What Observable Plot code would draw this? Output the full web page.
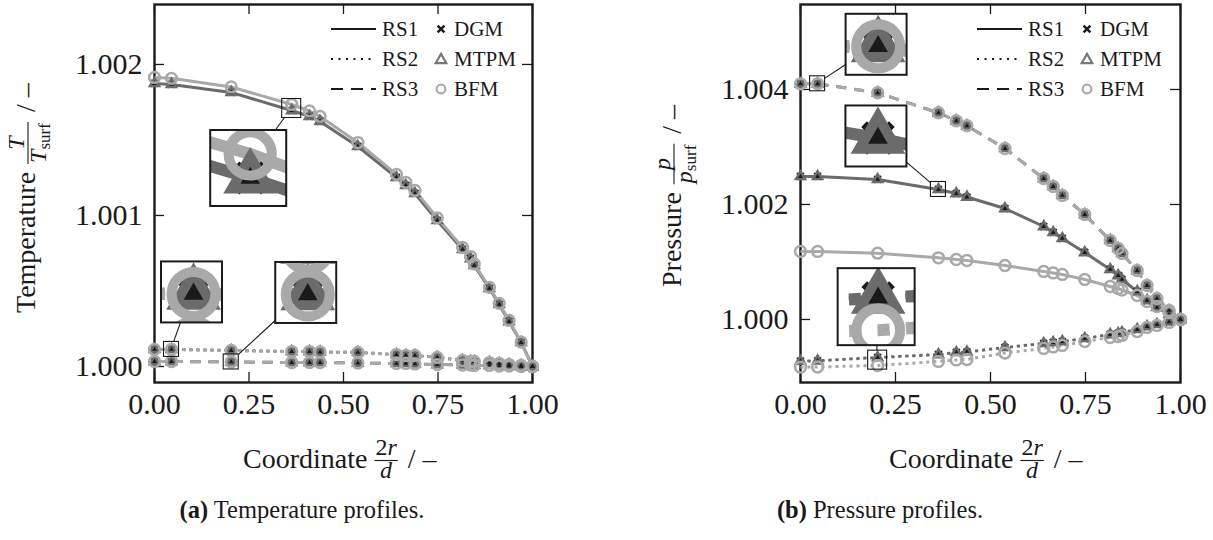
<!DOCTYPE html>
<html><head><meta charset="utf-8">
<script src="https://cdn.jsdelivr.net/npm/d3@7"></script>
<script src="https://cdn.jsdelivr.net/npm/@observablehq/plot@0.6"></script>
<style>
body{margin:0;background:#fff;}
#wrap{position:relative;width:1213px;height:540px;overflow:hidden;font-family:"Liberation Serif","Times New Roman",serif;background:#fff;}
#wrap svg, #wrap svg text{font-family:"Liberation Serif","Times New Roman",serif;}
#pa{position:absolute;left:0;top:0;}
#pb{position:absolute;left:600px;top:0;}
.cap{position:absolute;top:496px;font-size:24.5px;text-align:center;color:#1a1a1a;line-height:28px;}
</style></head><body>
<div id="wrap"><div id="pa"></div><div id="pb"></div>
<div class="cap" style="left:0;width:604px"><b>(a)</b> Temperature profiles.</div>
<div class="cap" style="left:600px;width:560px"><b>(b)</b> Pressure profiles.</div>
</div>
<script>
// ---------- data ----------
const coordinate = [0, 0.045, 0.203, 0.363, 0.41, 0.438, 0.538, 0.64, 0.665, 0.689, 0.748, 0.815, 0.836, 0.846, 0.886, 0.912, 0.938, 0.97, 1.0];

// Temperature T/T_surf
const tempRS1_DGM  = [1.001874, 1.001868, 1.001815, 1.001695, 1.001656, 1.001623, 1.001457, 1.001252, 1.001199, 1.001146, 1.000967, 1.000775, 1.000715, 1.000669, 1.000517, 1.000411, 1.000298, 1.000159, 1.000000];
const tempRS1_MTPM = [1.001874, 1.001868, 1.001815, 1.001695, 1.001656, 1.001623, 1.001457, 1.001252, 1.001199, 1.001146, 1.000967, 1.000775, 1.000715, 1.000669, 1.000517, 1.000411, 1.000298, 1.000159, 1.000000];
const tempRS1_BFM  = [1.001914, 1.001908, 1.001851, 1.001735, 1.001692, 1.001656, 1.001483, 1.001272, 1.001219, 1.001166, 1.000984, 1.000788, 1.000728, 1.000679, 1.000524, 1.000418, 1.000305, 1.000162, 1.000000];
const tempRS2_DGM  = [1.000113, 1.000113, 1.000106, 1.000099, 1.000099, 1.000096, 1.000093, 1.000079, 1.000073, 1.000073, 1.000060, 1.000040, 1.000033, 1.000033, 1.000026, 1.000020, 1.000013, 1.000007, 1.000000];
const tempRS2_MTPM = [1.000113, 1.000113, 1.000106, 1.000099, 1.000099, 1.000096, 1.000093, 1.000079, 1.000073, 1.000073, 1.000060, 1.000040, 1.000033, 1.000033, 1.000026, 1.000020, 1.000013, 1.000007, 1.000000];
const tempRS2_BFM  = [1.000113, 1.000113, 1.000106, 1.000099, 1.000099, 1.000096, 1.000093, 1.000079, 1.000073, 1.000073, 1.000060, 1.000040, 1.000033, 1.000033, 1.000026, 1.000020, 1.000013, 1.000007, 1.000000];
const tempRS3_DGM  = [1.000033, 1.000033, 1.000030, 1.000026, 1.000026, 1.000026, 1.000023, 1.000020, 1.000020, 1.000017, 1.000013, 1.000010, 1.000010, 1.000007, 1.000007, 1.000003, 1.000003, 1.000000, 1.000000];
const tempRS3_MTPM = [1.000033, 1.000033, 1.000030, 1.000026, 1.000026, 1.000026, 1.000023, 1.000020, 1.000020, 1.000017, 1.000013, 1.000010, 1.000010, 1.000007, 1.000007, 1.000003, 1.000003, 1.000000, 1.000000];
const tempRS3_BFM  = [1.000033, 1.000033, 1.000030, 1.000026, 1.000026, 1.000026, 1.000023, 1.000020, 1.000020, 1.000017, 1.000013, 1.000010, 1.000010, 1.000007, 1.000007, 1.000003, 1.000003, 1.000000, 1.000000];

// Pressure p/p_surf
const presRS1_DGM  = [1.002487, 1.002487, 1.002435, 1.002261, 1.002191, 1.002130, 1.001930, 1.001617, 1.001513, 1.001409, 1.001165, 1.000870, 1.000765, 1.000696, 1.000487, 1.000330, 1.000209, 1.000087, 1.000000];
const presRS1_MTPM = [1.002487, 1.002487, 1.002435, 1.002261, 1.002191, 1.002130, 1.001930, 1.001617, 1.001513, 1.001409, 1.001165, 1.000870, 1.000765, 1.000696, 1.000487, 1.000330, 1.000209, 1.000087, 1.000000];
const presRS1_BFM  = [1.001183, 1.001183, 1.001153, 1.001073, 1.001043, 1.001026, 1.000939, 1.000835, 1.000809, 1.000783, 1.000696, 1.000574, 1.000539, 1.000513, 1.000417, 1.000313, 1.000226, 1.000122, 1.000000];
const presRS2_DGM  = [0.999275, 0.999282, 0.999339, 0.999391, 0.999426, 0.999435, 0.999513, 0.999583, 0.999600, 0.999617, 0.999670, 0.999739, 0.999757, 0.999774, 0.999826, 0.999878, 0.999913, 0.999957, 1.000000];
const presRS2_MTPM = [0.999275, 0.999282, 0.999339, 0.999391, 0.999426, 0.999435, 0.999513, 0.999583, 0.999600, 0.999617, 0.999670, 0.999739, 0.999757, 0.999774, 0.999826, 0.999878, 0.999913, 0.999957, 1.000000];
const presRS2_BFM  = [0.999170, 0.999174, 0.999200, 0.999270, 0.999296, 0.999304, 0.999417, 0.999496, 0.999522, 0.999548, 0.999617, 0.999687, 0.999704, 0.999722, 0.999791, 0.999861, 0.999896, 0.999948, 1.000000];
const presRS3_DGM  = [1.004099, 1.004099, 1.003943, 1.003595, 1.003456, 1.003369, 1.002974, 1.002452, 1.002313, 1.002157, 1.001826, 1.001374, 1.001235, 1.001148, 1.000852, 1.000591, 1.000365, 1.000157, 1.000000];
const presRS3_MTPM = [1.004099, 1.004099, 1.003943, 1.003595, 1.003456, 1.003369, 1.002974, 1.002452, 1.002313, 1.002157, 1.001826, 1.001374, 1.001235, 1.001148, 1.000852, 1.000591, 1.000365, 1.000157, 1.000000];
const presRS3_BFM  = [1.004099, 1.004099, 1.003943, 1.003595, 1.003456, 1.003369, 1.002974, 1.002452, 1.002313, 1.002157, 1.001826, 1.001374, 1.001235, 1.001148, 1.000852, 1.000591, 1.000365, 1.000157, 1.000000];

// tick labels / axis limits
const xTicks = [0, 0.25, 0.5, 0.75, 1.0];
const tempTicks = [1.000, 1.001, 1.002];
const presTicks = [1.000, 1.002, 1.004];
const tempDomain = [0.999894, 1.002397];
const presDomain = [0.998904, 1.005478];
const rsNames = ["RS1", "RS2", "RS3"];
const modelNames = ["DGM", "MTPM", "BFM"];

// ---------- styles ----------
const SERIF = '"Liberation Serif", "Times New Roman", serif';
const INK = "#1a1a1a", DARK = "#6b6b6b", LIGHT = "#a9a9a9";
const MODEL_STROKE = {DGM: INK, MTPM: DARK, BFM: LIGHT};
const MODEL_WIDTH = {DGM: 1.4, MTPM: 3, BFM: 3};
const DASH = {RS1: undefined, RS2: "3,4", RS3: "10,8"};
const LEG_DASH = {RS1: null, RS2: "2,5.5", RS3: "12,8"};

function buildRows(series) {
  const rows = [];
  for (const rs of rsNames) for (const m of modelNames)
    series[rs][m].forEach((v, i) => rows.push({x: coordinate[i], i, v, rs, model: m}));
  return rows;
}
const tempRows = buildRows({
  RS1: {DGM: tempRS1_DGM, MTPM: tempRS1_MTPM, BFM: tempRS1_BFM},
  RS2: {DGM: tempRS2_DGM, MTPM: tempRS2_MTPM, BFM: tempRS2_BFM},
  RS3: {DGM: tempRS3_DGM, MTPM: tempRS3_MTPM, BFM: tempRS3_BFM}});
const presRows = buildRows({
  RS1: {DGM: presRS1_DGM, MTPM: presRS1_MTPM, BFM: presRS1_BFM},
  RS2: {DGM: presRS2_DGM, MTPM: presRS2_MTPM, BFM: presRS2_BFM},
  RS3: {DGM: presRS3_DGM, MTPM: presRS3_MTPM, BFM: presRS3_BFM}});

const H = 485, MT = 4, MB = 103;

function panel(el, rows, o) {
  const PW = o.width - o.marginLeft - o.marginRight, PH = H - MT - MB;
  const marks = [
    Plot.ruleY(o.ticks, {y: d => d, insetRight: PW - 10, stroke: INK, strokeWidth: 1.3}),
    Plot.ruleY(o.ticks, {y: d => d, insetLeft: PW - 10, stroke: INK, strokeWidth: 1.3}),
    Plot.ruleX(xTicks, {x: d => d, insetTop: PH - 10, stroke: INK, strokeWidth: 1.3}),
    Plot.ruleX(xTicks, {x: d => d, insetBottom: PH - 10, stroke: INK, strokeWidth: 1.3}),
    Plot.frame({stroke: INK, strokeWidth: 2.4}),
    Plot.axisY({ticks: o.ticks, tickSize: 0, tickPadding: 12, tickFormat: d3.format(".3f"), fontSize: 30, fontFamily: SERIF, label: null}),
    Plot.axisX({ticks: xTicks, tickSize: 0, tickPadding: 10, tickFormat: d3.format(".2f"), fontSize: 30, fontFamily: SERIF, label: null})
  ];
  for (const rs of rsNames) for (const m of modelNames) {
    marks.push(Plot.line(rows.filter(d => d.rs === rs && d.model === m), {
      x: "x", y: "v", stroke: MODEL_STROKE[m], strokeWidth: MODEL_WIDTH[m],
      strokeDasharray: DASH[rs], strokeLinecap: "butt", strokeLinejoin: "round"}));
  }
  marks.push(
    Plot.dot(rows.filter(d => d.model === "DGM"), {x: "x", y: "v", symbol: "times", r: 3.2, stroke: INK, strokeWidth: 2}),
    Plot.dot(rows.filter(d => d.model === "MTPM"), {x: "x", y: "v", symbol: "triangle", r: 5, fill: DARK, stroke: "none"}),
    Plot.dot(rows.filter(d => d.model === "MTPM"), {x: "x", y: "v", symbol: "triangle", r: 1.8, fill: INK, stroke: "none"}),
    Plot.dot(rows.filter(d => d.model === "BFM"), {x: "x", y: "v", symbol: "circle", r: 5.4, fill: "none", stroke: LIGHT, strokeWidth: 2.5})
  );
  const plot = Plot.plot({
    width: o.width, height: H, marginLeft: o.marginLeft, marginRight: o.marginRight, marginTop: MT, marginBottom: MB,
    x: {domain: [0, 1]}, y: {domain: o.domain},
    style: `font-family: ${SERIF}; font-size: 30px; color: ${INK}; background: transparent; overflow: visible;`,
    marks
  });
  el.appendChild(plot);
  addInsets(plot, rows, o.insets, o.id);
  addLegend(plot, o.marginLeft);
  addYLabel(plot, o.marginLeft, o.ylabel);
  addXLabel(plot, o.marginLeft);
  return plot;
}

function addInsets(plot, rows, insets, id) {
  const svg = d3.select(plot);
  const sx = plot.scale("x"), sy = plot.scale("y");
  const X = d3.scaleLinear(sx.domain, sx.range), Y = d3.scaleLinear(sy.domain, sy.range);
  const content = Array.from(plot.querySelectorAll('g[aria-label="line"], g[aria-label="dot"]'));
  const defs = svg.append("defs");
  insets.forEach((ins, k) => {
    const pts = rows.filter(d => d.rs === ins.rs && d.i === ins.index && ins.models.includes(d.model));
    const cx = X(coordinate[ins.index]);
    const cy = d3.mean(pts, d => Y(d.v));
    const bx = cx + ins.dx, by = cy + ins.dy;
    const h = ins.src / 2, h2 = ins.size / 2, m = ins.size / ins.src;
    const ddx = bx - cx, ddy = by - cy, mx = Math.max(Math.abs(ddx), Math.abs(ddy));
    svg.append("line")
      .attr("x1", cx + ddx * h / mx).attr("y1", cy + ddy * h / mx)
      .attr("x2", bx - ddx * h2 / mx).attr("y2", by - ddy * h2 / mx)
      .attr("stroke", INK).attr("stroke-width", 1.1);
    const cid = `clip-${id}-${k}`;
    defs.append("clipPath").attr("id", cid).append("rect")
      .attr("x", bx - h2).attr("y", by - h2).attr("width", ins.size).attr("height", ins.size);
    const g = svg.append("g");
    g.append("rect").attr("x", bx - h2).attr("y", by - h2).attr("width", ins.size).attr("height", ins.size).attr("fill", "#fff");
    const inner = g.append("g").attr("clip-path", `url(#${cid})`)
      .append("g").attr("transform", `translate(${bx},${by}) scale(${m}) translate(${-cx},${-cy})`);
    content.forEach(n => inner.node().appendChild(n.cloneNode(true)));
    g.append("rect").attr("x", bx - h2).attr("y", by - h2).attr("width", ins.size).attr("height", ins.size)
      .attr("fill", "none").attr("stroke", INK).attr("stroke-width", 2);
    svg.append("rect").attr("x", cx - h).attr("y", cy - h).attr("width", ins.src).attr("height", ins.src)
      .attr("fill", "none").attr("stroke", INK).attr("stroke-width", 1.1);
  });
}

function addLegend(plot, ML) {
  const g = d3.select(plot).append("g").attr("transform", `translate(${ML},0)`)
    .attr("font-family", SERIF).attr("font-size", 21).attr("fill", INK).attr("text-anchor", "start");
  const ys = [29, 59, 89];
  rsNames.forEach((rs, i) => {
    g.append("line").attr("x1", 177).attr("x2", 222).attr("y1", ys[i]).attr("y2", ys[i])
      .attr("stroke", INK).attr("stroke-width", 2.2).attr("stroke-dasharray", LEG_DASH[rs]);
    g.append("text").attr("x", 228).attr("y", ys[i] + 7).text(rs);
  });
  const sym = [
    {type: d3.symbolTimes, size: 32, fill: "none", stroke: INK, sw: 2.4, dy: 0},
    {type: d3.symbolTriangle, size: 48, fill: "#fff", stroke: "#777", sw: 2.2, dy: 1},
    {type: d3.symbolCircle, size: 60, fill: "none", stroke: LIGHT, sw: 2.2, dy: 0}
  ];
  modelNames.forEach((m, i) => {
    g.append("path").attr("d", d3.symbol(sym[i].type, sym[i].size)())
      .attr("transform", `translate(287,${ys[i] + sym[i].dy})`)
      .attr("fill", sym[i].fill).attr("stroke", sym[i].stroke).attr("stroke-width", sym[i].sw);
    g.append("text").attr("x", 300).attr("y", ys[i] + 7).text(m);
  });
}

function addYLabel(plot, ML, lab) {
  const g = d3.select(plot).append("g")
    .attr("transform", `translate(${ML - 119},${lab.start}) rotate(-90)`)
    .attr("font-family", SERIF).attr("fill", INK).attr("text-anchor", "start");
  const t = g.append("text").attr("x", 0).attr("y", 0).attr("font-size", 28).text(lab.word);
  const w = t.node().getComputedTextLength();
  const num = g.append("text").attr("y", -11).attr("text-anchor", "middle").attr("font-size", 24).attr("font-style", "italic").text(lab.sym);
  const den = g.append("text").attr("y", 11).attr("text-anchor", "middle").attr("font-size", 24);
  den.append("tspan").attr("font-style", "italic").text(lab.sym);
  den.append("tspan").attr("font-size", 17).attr("dy", 4).text("surf");
  const fw = Math.max(den.node().getComputedTextLength(), num.node().getComputedTextLength()) + 2;
  const c = w + 8 + fw / 2;
  num.attr("x", c); den.attr("x", c);
  g.append("line").attr("x1", c - fw / 2).attr("x2", c + fw / 2).attr("y1", -7).attr("y2", -7).attr("stroke", INK).attr("stroke-width", 1.1);
  g.append("text").attr("x", c + fw / 2 + 10).attr("y", 0).attr("font-size", 28).text("/ –");
}

function addXLabel(plot, ML) {
  const g = d3.select(plot).append("g").attr("transform", `translate(${ML + 89},468)`)
    .attr("font-family", SERIF).attr("fill", INK).attr("text-anchor", "start");
  const t = g.append("text").attr("font-size", 28).text("Coordinate");
  const w = t.node().getComputedTextLength();
  const num = g.append("text").attr("y", -13).attr("text-anchor", "middle").attr("font-size", 24);
  num.append("tspan").text("2");
  num.append("tspan").attr("font-style", "italic").text("r");
  const den = g.append("text").attr("y", 10).attr("text-anchor", "middle").attr("font-size", 24).attr("font-style", "italic").text("d");
  const fw = Math.max(num.node().getComputedTextLength(), den.node().getComputedTextLength()) + 2;
  const c = w + 7 + fw / 2;
  num.attr("x", c); den.attr("x", c);
  g.append("line").attr("x1", c - fw / 2).attr("x2", c + fw / 2).attr("y1", -7.5).attr("y2", -7.5).attr("stroke", INK).attr("stroke-width", 1.1);
  g.append("text").attr("x", c + fw / 2 + 10).attr("font-size", 28).text("/ –");
}

// ---------- layout of insets (magnified views) ----------
const tempInsets = [
  {rs: "RS1", index: 3, models: ["DGM", "MTPM", "BFM"], dx: -43, dy: 60, size: 76, src: 19},
  {rs: "RS2", index: 1, models: ["DGM", "MTPM", "BFM"], dx: 20.5, dy: -57, size: 61, src: 15},
  {rs: "RS3", index: 2, models: ["DGM", "MTPM", "BFM"], dx: 75, dy: -69, size: 61, src: 15}
];
const presInsets = [
  {rs: "RS3", index: 1, models: ["DGM", "MTPM", "BFM"], dx: 59, dy: -39, size: 61, src: 15},
  {rs: "RS1", index: 3, models: ["DGM", "MTPM"], dx: -62, dy: -53, size: 61, src: 15},
  {rs: "RS2", index: 2, models: ["DGM", "MTPM", "BFM"], dx: -1, dy: -53, size: 77, src: 19}
];

panel(document.getElementById("pa"), tempRows, {
  id: "a", width: 600, marginLeft: 154, marginRight: 68, domain: tempDomain, ticks: tempTicks,
  insets: tempInsets, ylabel: {word: "Temperature", sym: "T", start: 313}
});
panel(document.getElementById("pb"), presRows, {
  id: "b", width: 613, marginLeft: 200, marginRight: 33, domain: presDomain, ticks: presTicks,
  insets: presInsets, ylabel: {word: "Pressure", sym: "p", start: 287}
});
</script>
</body></html>
